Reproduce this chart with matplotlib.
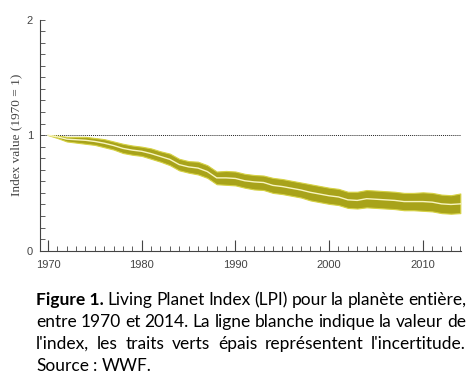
import matplotlib
matplotlib.use("Agg")
import matplotlib.pyplot as plt
from matplotlib.ticker import MultipleLocator

# ──────────────────────────────────────────────
# Data
# ──────────────────────────────────────────────
years = list(range(1970, 2015))

lpi_index = [
    1.000, 0.985, 0.965, 0.960, 0.955, 0.945, 0.930, 0.910, 0.885, 0.870,
    0.860, 0.840, 0.815, 0.790, 0.745, 0.725, 0.715, 0.685, 0.630, 0.630,
    0.625, 0.605, 0.595, 0.590, 0.565, 0.555, 0.540, 0.525, 0.505, 0.490,
    0.475, 0.465, 0.440, 0.435, 0.450, 0.445, 0.440, 0.435, 0.425, 0.425,
    0.425, 0.420, 0.405, 0.400, 0.405,
]
lpi_upper = [
    1.000, 0.995, 0.985, 0.985, 0.985, 0.975, 0.965, 0.945, 0.925, 0.910,
    0.900, 0.885, 0.860, 0.840, 0.795, 0.775, 0.770, 0.740, 0.685, 0.690,
    0.685, 0.665, 0.655, 0.650, 0.630, 0.620, 0.605, 0.590, 0.575, 0.560,
    0.545, 0.535, 0.510, 0.510, 0.525, 0.520, 0.515, 0.510, 0.500, 0.500,
    0.505, 0.500, 0.485, 0.480, 0.495,
]
lpi_lower = [
    1.000, 0.975, 0.945, 0.935, 0.925, 0.915, 0.895, 0.875, 0.845, 0.830,
    0.820, 0.795, 0.770, 0.740, 0.695, 0.675, 0.660, 0.630, 0.575, 0.570,
    0.565, 0.545, 0.530, 0.525, 0.500, 0.490, 0.475, 0.460, 0.435, 0.420,
    0.405, 0.395, 0.370, 0.365, 0.375, 0.370, 0.365, 0.360, 0.350, 0.350,
    0.345, 0.340, 0.325, 0.320, 0.325,
]

ylabel = "Index value (1970 = 1)"
caption_lines = [
    [("Figure 1.", True), ("Living", False), ("Planet", False), ("Index", False),
     ("(LPI)", False), ("pour", False), ("la", False), ("planète", False),
     ("entière,", False)],
    [("entre", False), ("1970", False), ("et", False), ("2014.", False), ("La", False),
     ("ligne", False), ("blanche", False), ("indique", False), ("la", False),
     ("valeur", False), ("de", False)],
    [("l'index,", False), ("les", False), ("traits", False), ("verts", False),
     ("épais", False), ("représentent", False), ("l'incertitude.", False)],
    [("Source", False), (":", False), ("WWF.", False)],
]

BAND = "#a8a31a"
BAND_EDGE = "#d6d244"
CENTER = "#f8f5c0"
AXC = "#444444"

# ──────────────────────────────────────────────
# Figure
# ──────────────────────────────────────────────
W, H = 476, 381
fig = plt.figure(figsize=(W / 100, H / 100), dpi=100)
ax = fig.add_axes([40 / W, (H - 250.7) / H, 420.5 / W, 231.2 / H])

ax.fill_between(years, lpi_lower, lpi_upper, color=BAND, edgecolor=BAND_EDGE,
                linewidth=0.8, zorder=2)
ax.plot(years, lpi_index, color=CENTER, linewidth=1.0, zorder=3)
ax.axhline(1.0, color="#222222", linestyle=(0, (1, 1)), linewidth=0.7, zorder=1)

ax.set_xlim(1969.15, 2014.02)
ax.set_ylim(0, 2)
for s in ("top", "right"):
    ax.spines[s].set_visible(False)
for s in ("left", "bottom"):
    ax.spines[s].set_color(AXC)
    ax.spines[s].set_linewidth(0.8)

ax.xaxis.set_major_locator(MultipleLocator(10))
ax.xaxis.set_minor_locator(MultipleLocator(1))
ax.yaxis.set_major_locator(MultipleLocator(1))
ax.yaxis.set_minor_locator(MultipleLocator(0.1))
ax.tick_params(axis="x", which="major", direction="in", length=8, width=0.8,
               color=AXC, labelsize=8, labelcolor=AXC, pad=7)
ax.tick_params(axis="x", which="minor", direction="in", length=3.5, width=0.6, color=AXC)
ax.tick_params(axis="y", which="both", direction="in", length=3.5, width=0.6,
               color=AXC, labelsize=8, labelcolor=AXC, pad=5)
ax.set_xticks([1970, 1980, 1990, 2000, 2010])
ax.set_xticklabels(["1970", "1980", "1990", "2000", "2010"], family="Liberation Sans")
ax.set_yticks([0, 1, 2])
ax.set_yticklabels(["0", "1", "2"], family="Liberation Sans")

ax.set_ylabel(ylabel, family="Liberation Serif", fontsize=9.5, color=AXC, labelpad=3)

# ──────────────────────────────────────────────
# Justified caption
# ──────────────────────────────────────────────
renderer = fig.canvas.get_renderer()
x_left, x_right = 36 / W, 466 / W
line_y = [300, 322, 344, 366]
fs = 12.5

for li, (words, y) in enumerate(zip(caption_lines, line_y)):
    texts = []
    for w, bold in words:
        t = fig.text(0, 1 - y / H, w, fontsize=fs, family="Lato",
                     weight="bold" if bold else "normal", va="center", ha="left",
                     color="black")
        texts.append(t)
    widths = [t.get_window_extent(renderer).width / W for t in texts]
    last = li == len(caption_lines) - 1
    if last:
        gap = 4 / W
    else:
        gap = (x_right - x_left - sum(widths)) / (len(words) - 1)
    x = x_left
    for t, wd in zip(texts, widths):
        t.set_x(x)
        x += wd + gap

fig.savefig("out.png", dpi=100)
